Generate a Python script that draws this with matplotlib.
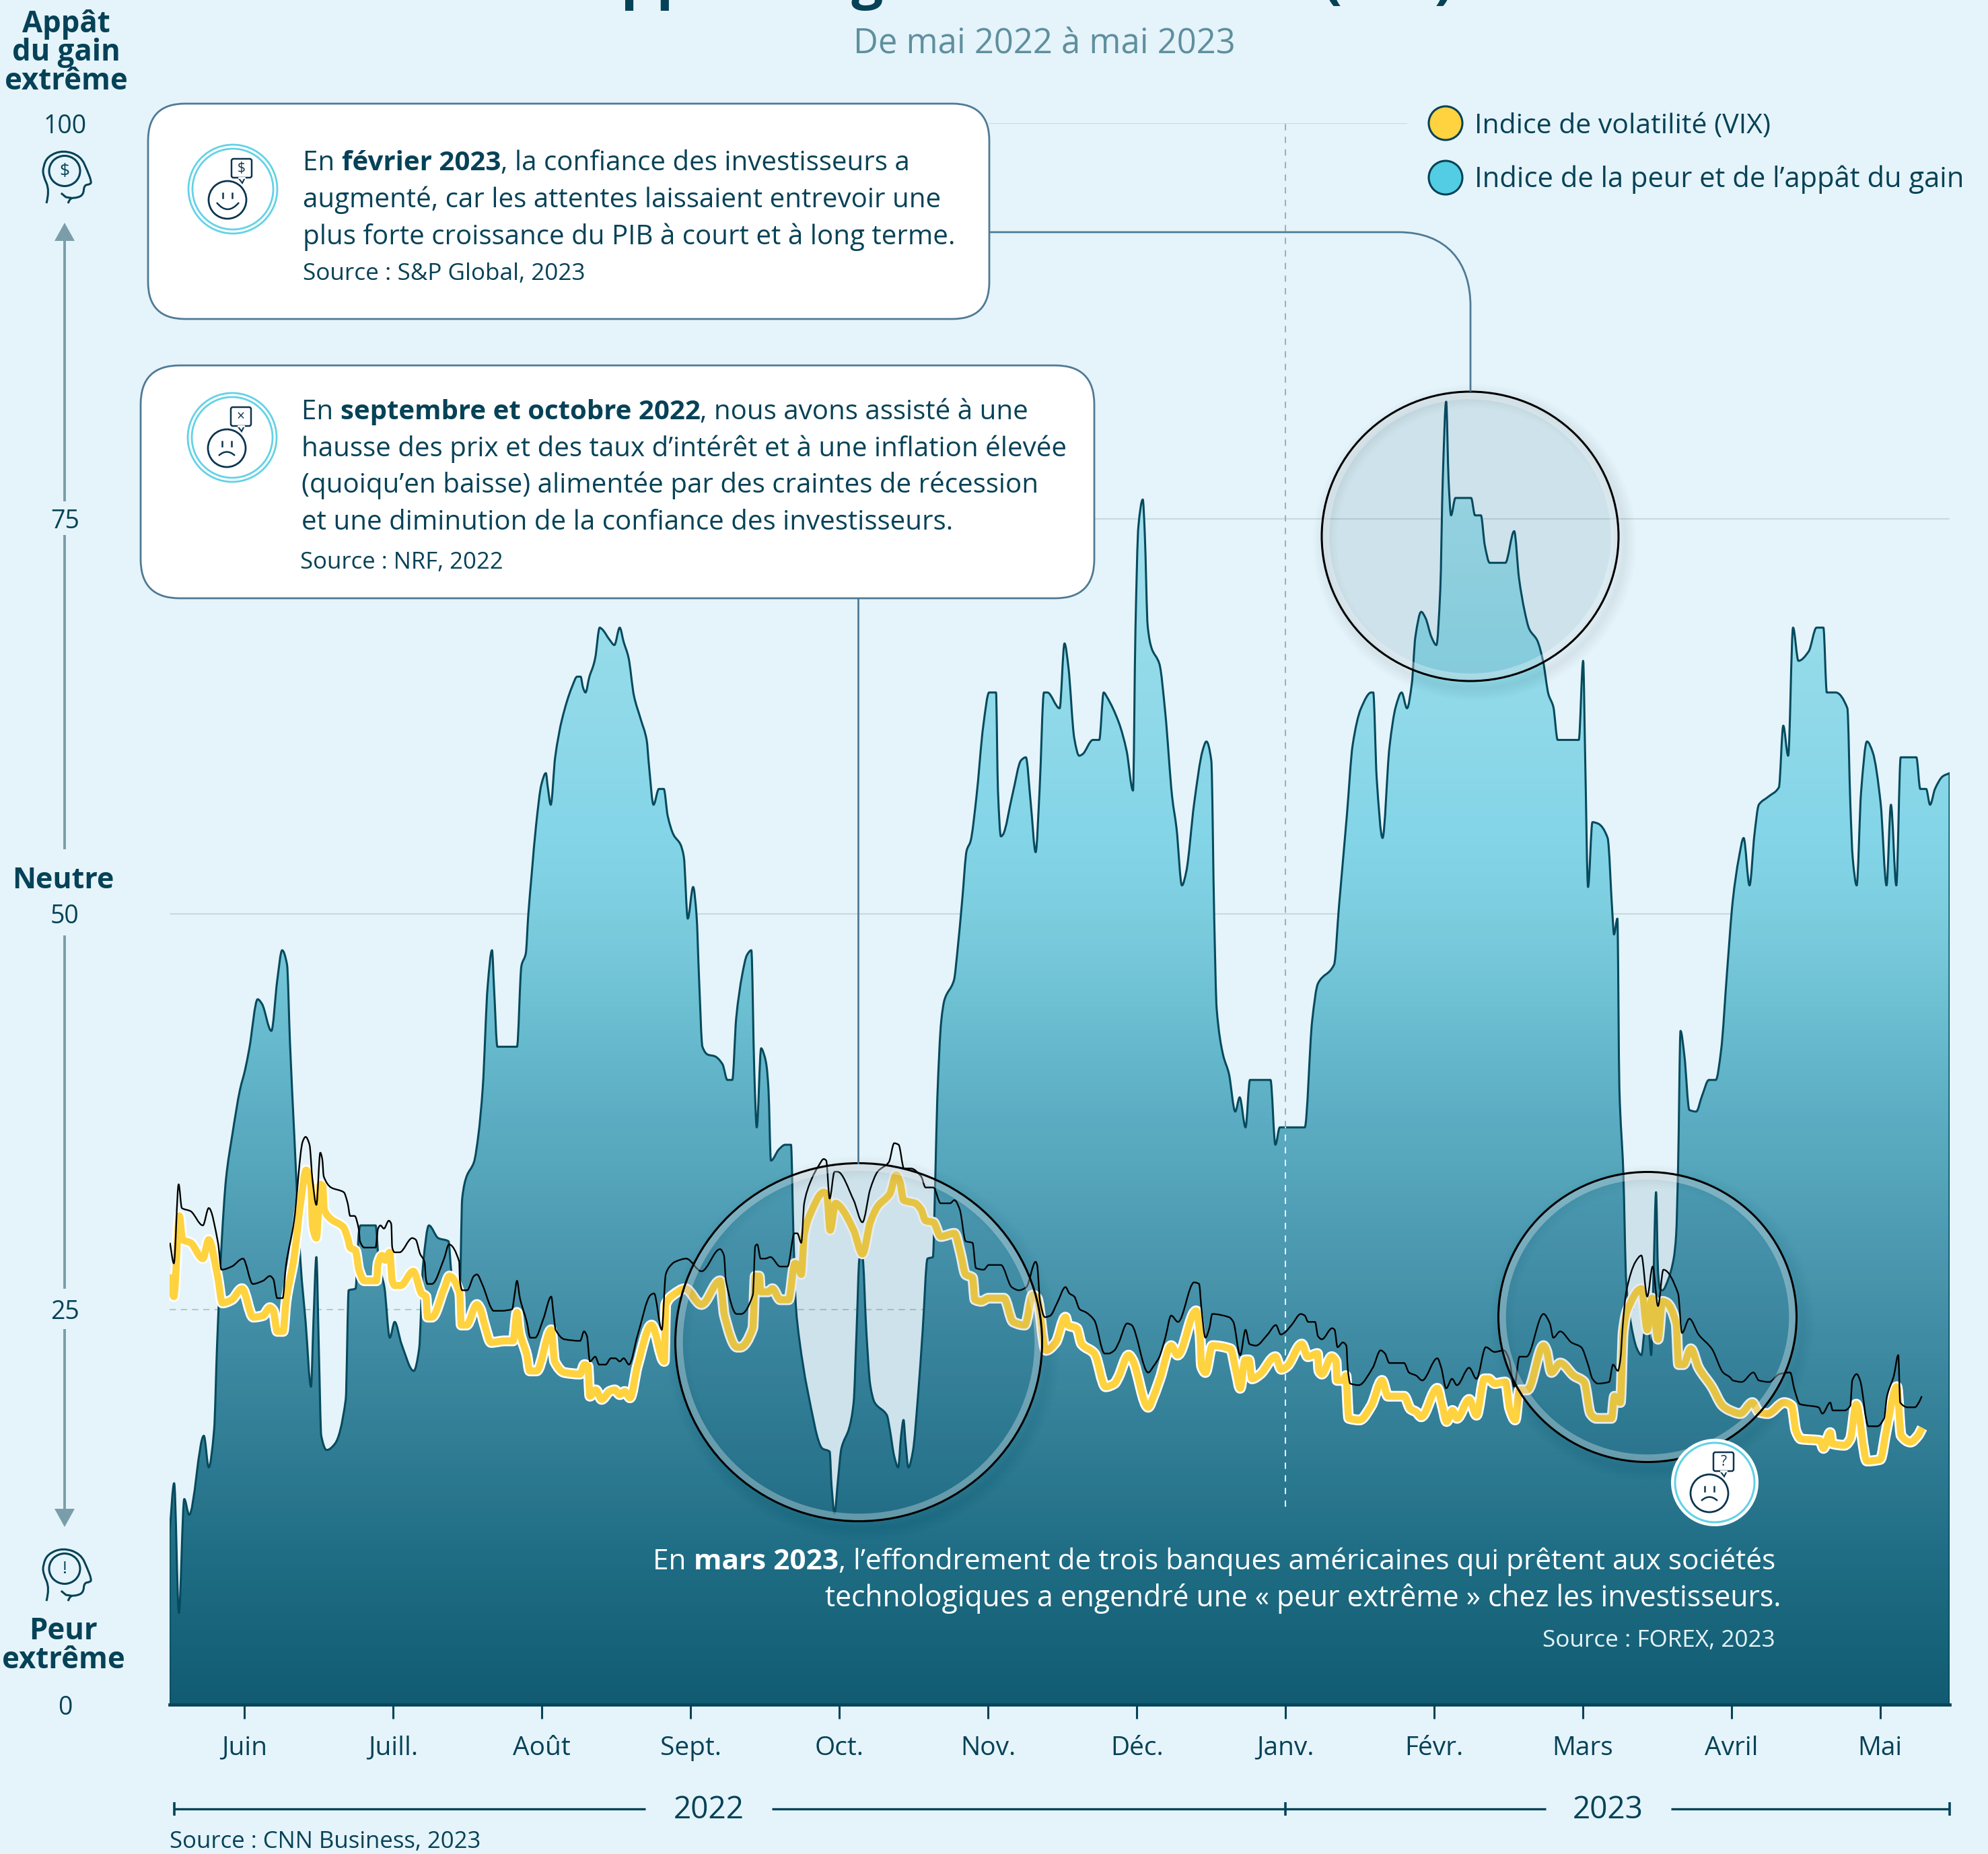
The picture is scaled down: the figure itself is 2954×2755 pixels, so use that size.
import numpy as np
import matplotlib
matplotlib.use("Agg")
import matplotlib.pyplot as plt
from matplotlib.colors import LinearSegmentedColormap
from matplotlib.patches import Ellipse, FancyBboxPatch, PathPatch, Polygon
from matplotlib.path import Path

plt.rcParams['font.family'] = ['Open Sans', 'DejaVu Sans']

# jours depuis le debut de la serie (mi-mai 2022) / valeur de l'indice
jours_peur = [0, 0.93, 1.9, 3, 4, 7, 8, 9.1, 9.7, 10.6, 11.55, 12.8, 14.4, 15.4, 16.3, 18, 18.9, 20.8, 22, 23, 24, 24.6, 25.5, 26.8, 27.8, 28.9, 29.4, 30, 30.5, 31, 32.1, 33.8, 36, 36.6, 38, 38.7, 39, 42.1, 42.8, 43.9, 45, 46, 47.4, 49.9, 51, 51.8, 53, 54.9, 57, 57.6, 58.5, 59.3, 59.8, 60.7, 62.2, 63.1, 64, 65, 65.9, 66.3, 67, 71, 71.9, 72.8, 73.3, 74, 74.9, 76, 76.9, 77.3, 77.9, 78.8, 80.2, 82.3, 83.3, 84, 84.5, 85, 85.8, 86.6, 87, 87.9, 88.4, 90, 90.9, 92, 92.8, 93.8, 94.9, 96.3, 97.5, 98, 98.9, 100, 101, 101.8, 103, 104.4, 105.1, 105.9, 107, 107.7, 108.2, 108.9, 110, 111.4, 113, 114, 115, 115.8, 117, 118, 118.9, 119.5, 120, 120.9, 121.6, 122, 122.4, 122.9, 124.5, 125.8, 127, 127.5, 128, 128.7, 130.3, 133.4, 134.9, 135.3, 135.9, 136.6, 137.3, 138.9, 139.8, 140.4, 141, 141.6, 142.4, 143.2, 144.1, 146.6, 147.2, 148.1, 148.9, 149.5, 150, 150.4, 151, 151.9, 153, 153.9, 154.9, 156, 156.5, 156.9, 157.7, 158.4, 160.3, 161, 162, 162.9, 163.7, 164.9, 166.3, 167.5, 168.9, 169.3, 169.9, 170.3, 172.3, 174, 175, 176, 177, 177.8, 178.7, 179.4, 181.9, 182.9, 183.7, 184.9, 185.9, 186.6, 188.7, 190, 190.9, 191.6, 194, 195.6, 196.9, 197.4, 198, 198.9, 199.3, 199.9, 200.7, 202.3, 203.5, 204.9, 205.8, 206.9, 207.8, 209.4, 211.1, 211.9, 212.9, 213.5, 214, 215.3, 216.5, 217.8, 218.7, 219.9, 220.8, 225, 226, 226.9, 232, 233.5, 234.7, 238, 239, 240.6, 241.8, 243.5, 245.6, 246, 246.7, 247.9, 249.3, 250.6, 251.8, 252.9, 253.9, 254.6, 255.8, 256.7, 257.9, 258.9, 259.7, 260.2, 260.9, 261.4, 261.9, 262.8, 266, 266.8, 268, 268.8, 269.8, 273, 274.8, 275.8, 276.9, 277.9, 279.5, 280.7, 281.8, 282.8, 283.7, 288, 288.9, 289.3, 289.9, 290.8, 292, 293.9, 294.9, 295.2, 295.9, 296.3, 297.1, 297.7, 298.6, 299.9, 300.8, 301.4, 302, 302.5, 302.8, 303.3, 303.8, 304.2, 304.6, 305.1, 306.3, 307.4, 307.9, 308.3, 308.8, 309.6, 310.6, 312, 313.2, 314.6, 316, 317.1, 318.3, 319.5, 320.7, 321.7, 322.9, 323.9, 324.8, 326.7, 328.9, 329.8, 330.8, 331.8, 332.9, 335, 336.6, 338, 338.7, 340.5, 342.9, 343.5, 344, 344.8, 345.7, 346.9, 348.1, 349.7, 350.9, 351.8, 352.9, 353.8, 357, 357.8, 359, 359.8, 360.8, 362.4, 363.8]
peur = [10.9, 14, 5.8, 13, 12, 17, 15, 17.4, 22.7, 29, 33.3, 36, 38.9, 40.1, 41.5, 44.6, 44.3, 42.6, 45.8, 47.7, 46.8, 41.9, 35.9, 27.8, 24.2, 20.1, 24.2, 28.3, 22.5, 17, 16.1, 16.5, 19.3, 26.2, 26.3, 29.9, 30.3, 30.3, 27.8, 26.4, 23.2, 24.2, 22.8, 21.1, 22.5, 27.8, 30.3, 29.5, 29.3, 27.3, 26, 26.2, 32, 33.4, 34.3, 36, 39, 45.4, 47.7, 45.4, 41.6, 41.6, 46.7, 47.5, 49.9, 52.5, 55.6, 58.2, 58.9, 58, 56.9, 59.9, 62.3, 64.4, 65, 65, 64.3, 64, 65, 65.7, 66.2, 68.1, 68, 67.3, 67, 68.1, 67.2, 66.2, 63.8, 62.3, 61, 59.3, 56.9, 57.9, 57.9, 56.2, 55, 54.4, 53.6, 49.7, 51.7, 49.9, 46, 41.6, 41.1, 41, 40.5, 39.5, 39.5, 43.4, 46.1, 47.4, 47.7, 40, 36.5, 41.5, 41, 40.4, 38.9, 34.4, 35.1, 35.4, 35.4, 29.7, 25.2, 23.1, 20, 16.2, 16, 13.8, 12.1, 14.2, 16.2, 17.5, 19.1, 23.6, 28.2, 28.3, 23.6, 20.2, 19.1, 18.3, 17.4, 15.7, 15, 17, 18, 16.6, 15, 16, 19.7, 23.6, 28.2, 28.3, 33.4, 38.3, 43.2, 44.6, 45.8, 47.6, 50.9, 54, 54.6, 57.4, 61.9, 64, 64, 57.8, 54.9, 55, 57.6, 59.7, 59.9, 57, 53.9, 57.8, 64, 64, 63, 67.1, 65.6, 61.1, 60, 60.1, 61, 61, 64, 63.7, 62.1, 60.3, 57.8, 68, 74.5, 76.2, 74.1, 68.2, 66.8, 65.8, 62.7, 57.4, 55.4, 51.8, 52.7, 57, 60.3, 60.9, 59.7, 49.7, 44, 41.1, 39.9, 37.5, 38.4, 36.5, 39.5, 39.5, 35.4, 36.5, 36.5, 43.2, 45.6, 46.8, 50.5, 56.2, 60.7, 63, 64, 64, 58.6, 54.8, 60.5, 63.1, 64, 63, 64.6, 67.5, 69.1, 68.7, 67.5, 67, 70.5, 77.4, 82.4, 77.4, 75.2, 76.3, 76.3, 75.2, 75.2, 73.3, 72.2, 72.2, 74.2, 71.2, 69.2, 68, 67.3, 66, 63.9, 63.1, 61, 61, 66, 60.1, 51.7, 55.8, 55.7, 54.8, 49.9, 48.7, 49.7, 39, 33.7, 26.7, 24.2, 22.5, 22.1, 23.6, 25.2, 23.1, 22.1, 27.4, 32.4, 27.4, 26.3, 26.2, 26.9, 28.2, 29.7, 34, 42.6, 41, 37.6, 37.5, 38.5, 39.5, 39.5, 41.4, 46.3, 50.9, 53.5, 54.8, 51.8, 55, 56.9, 57.4, 58, 61.9, 60, 68.1, 66, 66.6, 68.1, 68.1, 64, 64, 63, 57, 53.5, 51.8, 57.7, 60.9, 60.2, 57, 51.8, 56.9, 51.8, 59.9, 59.9, 57.9, 57.9, 56.9, 57.9, 58.7, 58.9]

jours_vix = [0.07, 0.87, 2, 2.65, 4.3, 6.8, 8, 9.8, 10.8, 12.7, 14.8, 17.1, 19.1, 20.5, 21.2, 22, 23.2, 23.8, 25.4, 26.8, 27.9, 28.9, 29.2, 30, 30.8, 31.3, 31.6, 33, 35.5, 36.4, 36.9, 38, 38.7, 39.8, 42.3, 42.6, 43.4, 44.1, 45, 45.5, 46, 47.2, 49.8, 51.5, 52.4, 52.7, 53.6, 56.1, 57.2, 59.3, 59.6, 60.7, 62.8, 63.5, 64.4, 65.7, 68.5, 70.2, 71, 71.6, 73, 73.6, 75, 78, 78.7, 80.7, 83.9, 84.8, 85.5, 85.9, 87.1, 88.3, 89.9, 91, 92, 93, 94.1, 95.6, 98.5, 101.1, 101.4, 102.9, 105.4, 108.7, 112.5, 113.4, 116, 116.6, 119.2, 119.7, 120.5, 120.8, 122.3, 123.2, 124.8, 126.5, 127.8, 128.4, 129.1, 129.7, 130.9, 133.7, 134.3, 135, 136.1, 137, 139.8, 141.6, 143.2, 144.7, 147.2, 148.5, 149.3, 150, 152.4, 153.6, 154.5, 156.1, 157.6, 160.4, 161.6, 162.7, 164.1, 164.6, 165.9, 167.4, 170.5, 172.4, 174.8, 176.4, 177.3, 179.1, 181.1, 183.1, 183.6, 185.4, 186.4, 189, 191.3, 193.1, 193.9, 196, 196.8, 200, 201.1, 202.4, 204.7, 206, 209.8, 210.6, 210.9, 211.7, 213.1, 216.8, 218, 218.8, 219.8, 220.6, 221.2, 222.9, 226, 227.2, 228.4, 231.4, 232.6, 234.6, 234.9, 235.5, 237.5, 238.4, 238.6, 239.8, 240.4, 241, 243.2, 245.6, 247.8, 249, 252.3, 253.6, 254.8, 255.8, 259.1, 260.1, 261, 262.2, 263.1, 265.6, 267.1, 268.7, 269.6, 270.8, 273, 273.9, 275, 275.9, 277.5, 280.8, 281.4, 282.4, 284.2, 287, 289.1, 290.4, 291.6, 294.7, 295.3, 296.5, 297.1, 298, 300.8, 302, 303, 304.2, 305.1, 306, 307.9, 308.4, 309.4, 310.9, 312.5, 315.2, 317.4, 318.9, 321, 323.5, 324.8, 326.6, 330, 331.5, 332.4, 333.4, 337.3, 338, 339.4, 339.8, 342.3, 343.5, 344.7, 346.9, 349.6, 350.9, 353, 353.9, 355.8, 357.3, 358.2]
vix = [27.2, 25.8, 30.9, 29.4, 29.2, 28.2, 29.4, 27.1, 25.4, 25.6, 26.3, 24.5, 24.6, 25.1, 24.9, 23.6, 23.6, 25.5, 28.2, 31.8, 33.8, 32.8, 30.3, 29.5, 32.9, 32.8, 31.3, 30.7, 30.2, 29.5, 28.9, 28.7, 27.5, 26.8, 26.8, 27.9, 28.4, 28.1, 28.6, 26.8, 26.5, 26.5, 27.4, 26, 25.8, 24.5, 24.5, 26.3, 27.1, 26, 24, 24, 25.3, 25, 24, 22.9, 23, 23, 24.8, 23.5, 22.1, 21.1, 21.1, 23.7, 21.7, 21, 20.9, 21.5, 21.4, 19.5, 19.9, 19.3, 19.8, 19.9, 19.6, 19.8, 19.4, 21.4, 24, 21.7, 25.3, 25.9, 26.3, 25.3, 26.8, 24.6, 22.6, 22.6, 23.8, 27.1, 27.1, 26.1, 26.1, 26.3, 25.6, 25.6, 27.9, 27.8, 27.2, 29.7, 31, 32.4, 32.3, 30, 31.7, 31.5, 30, 28.5, 30.5, 31.5, 32.3, 33.5, 33, 31.9, 31.7, 31.3, 30.6, 30.5, 29.6, 29.8, 28.6, 27.2, 27, 25.6, 25.5, 25.7, 25.7, 24.2, 24, 25.9, 25.7, 22.4, 22.9, 24.5, 24, 23.8, 22.8, 22.2, 20.1, 20.3, 20.7, 22.1, 21.8, 18.8, 19.5, 20.6, 22.7, 22.1, 24.9, 23.3, 21.4, 21, 22.7, 22.5, 21, 20, 21.8, 21.8, 20.6, 20.9, 22, 21.2, 21.4, 22.8, 22, 22.2, 21.1, 20.9, 22, 21.7, 20.5, 20.5, 20.8, 18.1, 18, 18.9, 20.5, 19.5, 19.5, 18.7, 18.5, 18.2, 20, 18.9, 17.9, 18.6, 18.1, 19.3, 18.3, 20.6, 20.6, 20.3, 20.4, 18.7, 18, 19.9, 19.9, 22.7, 22.4, 21, 21.6, 20.8, 20.4, 18.4, 18.1, 18.1, 19.5, 19.1, 23.6, 25, 26.3, 23.7, 25.7, 23.1, 25.5, 25.4, 24.1, 21.5, 21.5, 22.5, 21.3, 20.1, 18.9, 18.6, 18.4, 19.1, 18.5, 18.4, 19.1, 18.9, 17.3, 16.8, 16.7, 16.2, 17.2, 16.5, 16.4, 16.8, 19, 15.4, 15.5, 17.4, 20.1, 17, 16.6, 17, 17.5]

jours_noir = [0.07, 0.87, 1.85, 2.5, 4.3, 6.8, 8, 9.9, 10.6, 12.7, 15, 17, 19.1, 20.5, 21.2, 22, 23.1, 23.8, 25.4, 27.2, 27.8, 28.6, 29.2, 30, 30.8, 31.2, 31.5, 33, 35.6, 36.4, 36.9, 37.8, 38.7, 38.9, 39.8, 42.1, 42.6, 43.1, 43.8, 44.8, 45.3, 45.5, 46, 47, 49.6, 50.3, 51.2, 52.1, 52.4, 52.7, 53.6, 56.1, 57.1, 59.2, 59.3, 59.8, 60.8, 62.2, 62.8, 64, 65.7, 66.2, 67.8, 70, 70.5, 71, 71.6, 73, 73.7, 74.7, 76.4, 78, 78.5, 78.9, 80.7, 83.9, 84.7, 85.3, 85.9, 87, 87.8, 89.1, 90.2, 91.1, 92, 92.8, 93.9, 95.6, 98.3, 99, 100.6, 101.4, 102.2, 103.3, 105.6, 108.7, 112.5, 113.3, 113.7, 115.9, 116.8, 119.2, 119.7, 120.1, 120.8, 121.7, 122.8, 124.8, 126.3, 127.7, 128.3, 129.1, 129.7, 130.9, 132.7, 133.7, 134.2, 134.9, 135.9, 136.5, 139.8, 141.6, 143.2, 144.7, 147, 148.1, 149, 150.1, 151.5, 153.6, 154.5, 156.1, 157.6, 159.5, 160.4, 161.5, 162.7, 164.1, 164.8, 166.4, 167.4, 169.9, 172.1, 173.6, 175.1, 177, 177.3, 177.9, 178.9, 180, 181.4, 183.1, 183.9, 184.9, 186, 187.3, 189, 191.1, 191.9, 193.1, 194, 195.7, 196.6, 200, 201.1, 202.3, 203.5, 204.7, 206.1, 209.4, 210.4, 210.9, 211.7, 212.5, 213.1, 216.5, 217.4, 218.8, 219.9, 220.7, 222, 224.4, 226.1, 227.1, 227.8, 229.3, 231.2, 232, 232.7, 234.1, 234.7, 235.5, 237.6, 238.1, 238.7, 239.8, 240.5, 240.8, 241.3, 243, 245.9, 247.5, 248.4, 249.3, 252.3, 253.3, 254.8, 256, 259.1, 259.9, 260.9, 262.1, 263.1, 265.6, 267.1, 269, 270.8, 272.7, 273.8, 274.8, 275.9, 277.3, 280.8, 282.1, 282.8, 284.2, 286.5, 288.5, 289.9, 290.8, 291.9, 294.2, 295, 296, 296.5, 297, 297.7, 299.6, 300.8, 302, 303.1, 304.2, 305.3, 308.3, 309.1, 310.6, 312.5, 315.2, 317.5, 318.9, 319.5, 321.3, 323.7, 324.8, 326.9, 329, 331.2, 332.1, 333.2, 337, 337.8, 339.4, 339.9, 342.3, 343.5, 343.9, 344.8, 345.5, 347.2, 349, 350.4, 351, 352.4, 353.3, 353.7, 355.2, 356.7, 357.5, 358.1]
noir = [29.2, 27.9, 32.9, 31.4, 31.2, 30.3, 31.4, 29.2, 27.5, 27.7, 28.2, 26.6, 26.8, 27.1, 26.9, 25.7, 25.7, 27.8, 30.5, 35.6, 35.9, 35.4, 33.2, 31.6, 34.9, 34.5, 33.4, 32.7, 32.4, 31.7, 30.9, 30.9, 30, 29.3, 28.9, 28.9, 30.1, 30.3, 30.1, 30.6, 30.4, 28.9, 28.6, 28.6, 29.5, 29.4, 28.5, 28, 26.9, 26.6, 26.6, 28.2, 29.1, 28, 26.9, 26.2, 26.2, 27.1, 27.2, 26.5, 25.1, 24.9, 24.9, 25, 25.9, 26.8, 25.7, 24.2, 23.2, 23.2, 24.4, 25.8, 24.6, 23.7, 23.1, 23, 23.6, 23.3, 21.7, 22, 21.5, 21.5, 21.9, 21.9, 21.7, 21.9, 21.5, 23.3, 25.9, 26, 23.7, 27.2, 27.7, 28, 28.2, 27.4, 28.8, 28.4, 26.8, 24.7, 24.7, 25.9, 29, 29.1, 28.2, 28.2, 28.3, 27.7, 27.7, 29.8, 29.8, 29.2, 31.7, 33, 34.1, 34.5, 34.4, 32, 33.7, 33.7, 31.9, 30.5, 32.6, 33.7, 34.3, 35.5, 35.4, 33.9, 33.9, 33.4, 32.7, 32.7, 31.7, 31.7, 31.9, 31.3, 29.3, 29.2, 27.6, 27.5, 27.8, 27.8, 26.4, 26.2, 26.4, 28, 27.8, 25.5, 24.5, 24.6, 25.4, 26.4, 26, 25.8, 25, 24.8, 24.3, 22.2, 22.2, 22.4, 22.9, 24.1, 24, 21, 21.4, 22, 23.2, 24.6, 24.2, 26.7, 26.6, 25, 23.2, 23.8, 24.7, 24.5, 24.2, 22.1, 23.7, 22.8, 22.7, 23.4, 24, 23.4, 23.5, 24, 24.7, 24.6, 24.2, 24.2, 23.3, 23.1, 23.8, 23.7, 22.6, 22.9, 22.7, 21.2, 20.3, 20.2, 21.3, 22.4, 22.2, 21.6, 21.6, 21, 20.8, 20.5, 21.9, 21.3, 20, 20.6, 20.2, 21.3, 20.6, 22.6, 22.3, 22.4, 21.8, 20.1, 22, 22, 24.7, 24.1, 23.2, 23.6, 22.9, 22.6, 21.5, 20.6, 20.3, 20.4, 21.5, 21.1, 21.8, 24, 26.1, 28, 28.4, 25.8, 27.7, 25.2, 27.5, 26, 23.5, 24.4, 23.4, 22.5, 21, 20.7, 20.5, 20.4, 21, 20.5, 20.4, 20.9, 21, 19.9, 19, 18.8, 18.4, 19.1, 18.6, 18.6, 18.9, 20.5, 20.9, 20.5, 17.6, 17.6, 18.1, 19.5, 20.8, 22.1, 19.1, 18.8, 18.8, 19.1, 19.5]

mois = ['Juin', 'Juill.', 'Août', 'Sept.', 'Oct.', 'Nov.', 'Déc.', 'Janv.', 'Févr.', 'Mars', 'Avril', 'Mai']
jours_mois = [15.3, 45.7, 76.1, 106.5, 136.9, 167.3, 197.7, 228, 258.4, 288.8, 319.2, 349.6]
niveaux = [0, 25, 50, 75, 100]

fond = '#e5f4fa'
fonce = '#064257'
trait = '#4f7a96'
cyan = '#63d2e6'


def courbe(x, y):
    # courbe monotone passant par les points
    x = np.array(x, float)
    y = np.array(y, float)
    dx = np.diff(x)
    s = np.diff(y) / dx
    m = np.zeros(len(x))
    m[0] = s[0]
    m[-1] = s[-1]
    for i in range(1, len(x) - 1):
        if s[i - 1] * s[i] > 0:
            m[i] = 2 * s[i - 1] * s[i] / (s[i - 1] + s[i])
    v = [(x[0], y[0])]
    c = [Path.MOVETO]
    for i in range(len(dx)):
        v += [(x[i] + dx[i] / 3, y[i] + m[i] * dx[i] / 3),
              (x[i + 1] - dx[i] / 3, y[i + 1] - m[i + 1] * dx[i] / 3),
              (x[i + 1], y[i + 1])]
        c += [Path.CURVE4] * 3
    return v, c


fig = plt.figure(figsize=(29.54, 27.55), dpi=100, facecolor=fond)
ax = fig.add_axes([252 / 2954, 222 / 2755, 2645 / 2954, 2350 / 2755])
ax.set_facecolor('none')
fin = 363.8

ax.axhline(75, color='#c8d9e0', lw=1.5, zorder=1)
ax.axhline(50, color='#c8d9e0', lw=1.5, zorder=1)
ax.plot([167.5, 252.8], [100, 100], color='#c8d9e0', lw=1.5, zorder=1)
ax.axhline(25, color='#b9c7cc', lw=1.5, ls=(0, (4.5, 3.5)), zorder=1)

v, c = courbe(jours_peur, peur)
aire = Path(v + [(fin, 0), (0, 0), (0, peur[0])], c + [Path.LINETO] * 3)
degrade = LinearSegmentedColormap.from_list('peur', [
    (0, '#115c72'), (0.09, '#1f6d84'), (0.25, '#4490a8'), (0.39, '#60b2c7'), (0.5, '#7cceDF'),
    (0.55, '#84d5e8'), (0.68, '#97dcea'), (0.85, '#b5e8f2'), (1, '#c5eff6')])
im = ax.imshow(np.linspace(0, 1, 512).reshape(-1, 1), extent=[0, fin, 0, 100], origin='lower', aspect='auto',
               cmap=degrade, zorder=2)
ax.add_patch(PathPatch(aire, fc='none', ec='#064a5e', lw=2.2, zorder=3, joinstyle='round'))
im.set_clip_path(PathPatch(aire, transform=ax.transData))

ax.plot([228, 228], [36.5, 100], color='#9fb0b6', lw=1.5, ls=(0, (4.5, 4.5)), zorder=3)
ax.plot([228, 228], [12.5, 36.5], color='#e5f4fa', lw=1.5, ls=(0, (4.5, 4.5)), zorder=3)

v, c = courbe(jours_vix, vix)
ax.add_patch(PathPatch(Path(v, c), fc='none', ec='white', lw=11.5, zorder=4, joinstyle='round', capstyle='butt'))
ax.add_patch(PathPatch(Path(v, c), fc='none', ec='#ffd23f', lw=7.6, zorder=4, joinstyle='round', capstyle='butt'))
v, c = courbe(jours_noir, noir)
ax.add_patch(PathPatch(Path(v, c), fc='none', ec='black', lw=1.7, zorder=5, joinstyle='round'))

ax.set_xlim(0, fin)
ax.set_ylim(0, 100)
ax.set_xticks(jours_mois)
ax.set_xticklabels(mois)
ax.set_yticks(niveaux)
ax.tick_params(axis='x', length=15, width=2.2, color=fonce, labelsize=28, labelcolor=fonce, pad=18)
ax.tick_params(axis='y', length=0, labelsize=27, labelcolor=fonce, pad=112)
for t in ax.get_yticklabels():
    t.set_horizontalalignment('center')
for s in ['top', 'left', 'right']:
    ax.spines[s].set_visible(False)
ax.spines['bottom'].set_linewidth(3.4)
ax.spines['bottom'].set_color(fonce)

# tout le reste est place en pixels de l'image
ov = fig.add_axes([0, 0, 1, 1], facecolor='none')
ov.set_xlim(0, 2954)
ov.set_ylim(2755, 0)
ov.axis('off')
rend = fig.canvas.get_renderer()


def largeur(s, poids, taille):
    a = ov.text(0, 0, '|' + s + '|', fontsize=taille, weight=poids)
    b = ov.text(0, 0, '||', fontsize=taille, weight=poids)
    w = a.get_window_extent(rend).width - b.get_window_extent(rend).width
    a.remove()
    b.remove()
    return w


def riche(x, y, morceaux, taille=29, couleur=fonce, droite=False):
    # morceaux : (texte, poids) mis bout a bout sur la meme ligne de base
    ws = [largeur(s, p, taille) for s, p in morceaux]
    if droite:
        x = x - sum(ws)
    for (s, p), w in zip(morceaux, ws):
        ov.text(x, y, s, fontsize=taille, weight=p, color=couleur, va='baseline', ha='left')
        x += w


def lisse(pts):
    v = [pts[0]]
    c = [Path.MOVETO]
    for i in range(1, len(pts) - 1):
        fin_x = (pts[i][0] + pts[i + 1][0]) / 2
        fin_y = (pts[i][1] + pts[i + 1][1]) / 2
        v += [pts[i], (fin_x, fin_y)]
        c += [Path.CURVE3, Path.CURVE3]
    v.append(pts[-1])
    c.append(Path.LINETO)
    return Path(v, c)


def tete(cx, cy, signe):
    pts = [(-27, 40), (-22, 21), (-32, -1), (-32, -14), (-25, -30), (-2, -39), (24, -30), (34, -8), (40, 8),
           (38, 12), (29, 13), (28, 27), (19, 32), (9, 32), (5, 40)]
    pts = [(cx + a, cy + b) for a, b in pts]
    ov.add_patch(PathPatch(lisse(pts), fc='none', ec=fonce, lw=2.2))
    ov.plot([cx - 4, cx + 2, cx + 9], [cy + 26, cy + 31, cy + 32], color=fonce, lw=2.2)
    ov.add_patch(Ellipse((cx, cy - 8), 46, 45, fc='none', ec=fonce, lw=2.2))
    ov.text(cx, cy - 8, signe, fontsize=19, color=fonce, ha='center', va='center')


def visage(cx, cy, content, signe):
    fx, fy = cx - 8, cy + 16
    ov.add_patch(Ellipse((fx, fy), 56, 56, fc='white', ec='#0b3550', lw=2))
    ov.plot([fx - 7, fx - 7], [fy - 10, fy - 3], color='#0b3550', lw=1.8)
    ov.plot([fx + 7, fx + 7], [fy - 10, fy - 3], color='#0b3550', lw=1.8)
    if content:
        arc = Path([(fx - 16, fy + 4), (fx, fy + 24), (fx + 17, fy + 4)], [Path.MOVETO, Path.CURVE3, Path.CURVE3])
    else:
        arc = Path([(fx - 12, fy + 11), (fx, fy), (fx + 12, fy + 11)], [Path.MOVETO, Path.CURVE3, Path.CURVE3])
    ov.add_patch(PathPatch(arc, fc='none', ec='#0b3550', lw=1.8))
    bx, by = cx + 13, cy - 31
    ov.add_patch(FancyBboxPatch((bx - 15, by - 14), 30, 28, boxstyle='round,pad=0,rounding_size=3', fc='white',
                                ec='#0b3550', lw=1.8))
    ov.add_patch(Polygon([(bx - 5, by + 14), (bx + 1, by + 22), (bx + 5, by + 14)], fc='white', ec='#0b3550', lw=1.5))
    ov.plot([bx - 4, bx + 4], [by + 14, by + 14], color='white', lw=2)
    ov.text(bx, by, signe, fontsize=15, color='#0b3550', ha='center', va='center')


# titre coupe par le haut de l'image
riche(2160, -4, [('Appât du gain et volatilité (VIX)', 'bold')], taille=60, droite=True)
ov.text(1552, 66, 'De mai 2022 à mai 2023', fontsize=36.5, color='#5f8f9e', ha='center', va='center')

# legende
ov.add_patch(Ellipse((2148, 183), 50, 50, fc='#ffd23f', ec=fonce, lw=2.2))
ov.add_patch(Ellipse((2148, 264), 50, 50, fc='#52cde3', ec=fonce, lw=2.2))
riche(2191, 198, [('Indice de volatilité (VIX)', 'normal')], taille=29.5)
riche(2191, 278, [('Indice de la peur et de l’appât du gain', 'normal')], taille=30)

# loupes
for cx, cy, w, h in [(2184.5, 797, 441, 430), (1276, 1994.5, 545, 532), (2448, 1957, 443, 431)]:
    for k in range(1, 9):
        ov.add_patch(Ellipse((cx + 7, cy + 9), w + 4, h + 4, fc='none', ec='#0a3a50', lw=k * 3.2, alpha=0.008))
    ov.add_patch(Ellipse((cx, cy), w, h, fc='#0a4a6a', ec='none', alpha=0.1))
    ov.add_patch(Ellipse((cx, cy), w - 12, h - 12, fc='none', ec='white', lw=7.5, alpha=0.3))
    ov.add_patch(Ellipse((cx, cy), w, h, fc='none', ec='black', lw=2.2))

# liaisons
ov.add_patch(PathPatch(Path([(1470, 345), (2078, 345), (2150, 345), (2185, 390), (2185, 455), (2185, 582)],
                            [Path.MOVETO, Path.LINETO, Path.CURVE4, Path.CURVE4, Path.CURVE4, Path.LINETO]),
                       fc='none', ec=trait, lw=2))
ov.plot([1275, 1275], [889, 1728], color=trait, lw=2)

# encadres
ov.add_patch(FancyBboxPatch((220, 154), 1250, 320, boxstyle='round,pad=0,rounding_size=55', fc='white', ec=trait, lw=2))
ov.add_patch(FancyBboxPatch((209, 543), 1417, 346, boxstyle='round,pad=0,rounding_size=58', fc='white', ec=trait, lw=2))

for cx, cy, content, signe in [(346, 281, True, '$'), (345, 650, False, '×')]:
    ov.add_patch(Ellipse((cx, cy), 132, 132, fc='none', ec=cyan, lw=2))
    ov.add_patch(Ellipse((cx, cy), 120, 120, fc='none', ec=cyan, lw=2))
    visage(cx, cy, content, signe)

ov.add_patch(Ellipse((2548, 2203), 130, 130, fc='white', ec='none'))
ov.add_patch(Ellipse((2548, 2203), 118, 118, fc='white', ec=cyan, lw=2.2))
visage(2548, 2203, False, '?')

riche(450, 253, [('En ', 'normal'), ('février 2023', 'bold'), (', la confiance des investisseurs a', 'normal')])
riche(450, 308, [('augmenté, car les attentes laissaient entrevoir une', 'normal')])
riche(450, 363, [('plus forte croissance du PIB à court et à long terme.', 'normal')])
riche(450, 416, [('Source : S&P Global, 2023', 'normal')], taille=25.3)

riche(448, 623, [('En ', 'normal'), ('septembre et octobre 2022', 'bold'), (', nous avons assisté à une', 'normal')])
riche(448, 678, [('hausse des prix et des taux d’intérêt et à une inflation élevée', 'normal')])
riche(448, 732, [('(quoiqu’en baisse) alimentée par des craintes de récession', 'normal')])
riche(448, 787, [('et une diminution de la confiance des investisseurs.', 'normal')])
riche(446, 845, [('Source : NRF, 2022', 'normal')], taille=25)

riche(2638, 2332, [('En ', 'normal'), ('mars 2023', 'bold'), (', l’effondrement de trois banques américaines qui prêtent aux sociétés', 'normal')],
      taille=30.5, couleur='white', droite=True)
riche(2647, 2387, [('technologiques a engendré une « peur extrême » chez les investisseurs.', 'normal')],
      taille=30.7, couleur='white', droite=True)
riche(2638, 2447, [('Source : FOREX, 2023', 'normal')], taille=25.3, couleur='#e5f4fa', droite=True)

# echelle de gauche
for s, x, y in [('Appât', 98, 48), ('du gain', 98, 90), ('extrême', 98, 133), ('Peur', 94, 2436), ('extrême', 94, 2479)]:
    ov.text(x, y, s, fontsize=31.5, weight='bold', color=fonce, ha='center', va='baseline')
ov.text(94, 1308, 'Neutre', fontsize=31, weight='bold', color=fonce, ha='center', va='center')
gris = '#7a9ea9'
for a, b in [(358, 745), (795, 1262), (1390, 1915), (1975, 2242)]:
    ov.plot([96, 96], [a, b], color=gris, lw=2.8, solid_capstyle='butt')
ov.add_patch(Polygon([(81, 358), (111, 358), (96, 331)], fc=gris, ec='none'))
ov.add_patch(Polygon([(81, 2242), (111, 2242), (96, 2269)], fc=gris, ec='none'))
tete(96, 262, '$')
tete(96, 2339, '!')

# barre des annees
for a, b in [(259, 959), (1147, 2297), (2483, 2897)]:
    ov.plot([a, b], [2688, 2688], color=fonce, lw=2.4, solid_capstyle='butt')
for x, d in [(259, 10), (1910, 10), (2897, 10)]:
    ov.plot([x, x], [2688 - d, 2688 + d], color=fonce, lw=2.6, solid_capstyle='butt')
ov.text(1053, 2690, '2022', fontsize=33, color=fonce, ha='center', va='center')
ov.text(2389, 2690, '2023', fontsize=33, color=fonce, ha='center', va='center')
riche(252, 2746, [('Source : CNN Business, 2023', 'normal')], taille=25)

fig.savefig('out.png', dpi=100, facecolor=fond)
